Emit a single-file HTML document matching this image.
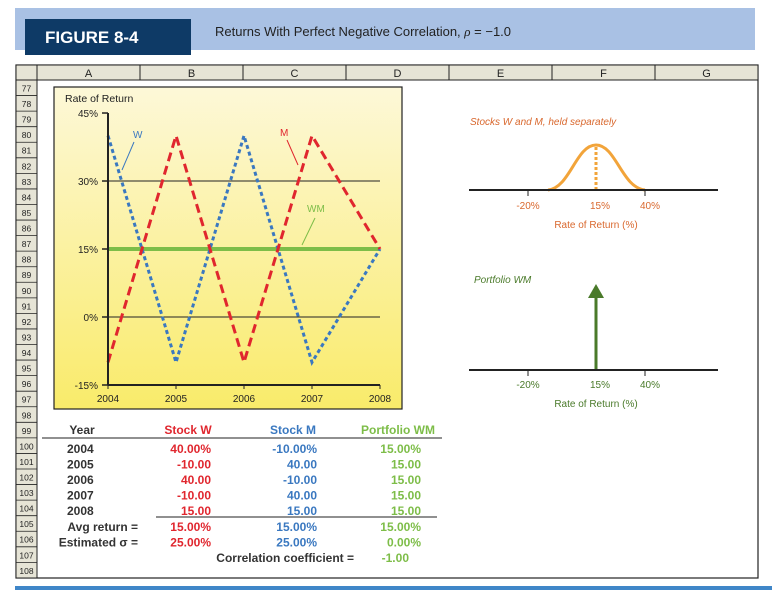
<!DOCTYPE html>
<html><head><meta charset="utf-8"><style>
body{margin:0;background:#fff;font-family:"Liberation Sans",sans-serif;}
svg{display:block}
</style></head><body>
<svg id="s" width="772" height="602" xmlns="http://www.w3.org/2000/svg" font-family="Liberation Sans, sans-serif">
<rect x="15" y="8" width="740" height="42" fill="#a9c1e4"/>
<rect x="25" y="19" width="166" height="36" fill="#0e3a66"/>
<text x="45" y="43" fill="#fff" font-size="17" font-weight="bold">FIGURE 8-4</text>
<text x="215" y="36" fill="#222" font-size="13">Returns With Perfect Negative Correlation, <tspan font-style="italic" font-family="Liberation Serif">ρ</tspan> = −1.0</text>
<rect x="16" y="65" width="742" height="513" fill="#fff" stroke="#222" stroke-width="1.2"/>
<g id="grid"></g>
<rect x="54" y="87" width="348" height="322" fill="url(#yg)" stroke="#222" stroke-width="1.2"/>
<defs><linearGradient id="yg" x1="0" y1="0" x2="0" y2="1"><stop offset="0" stop-color="#fdf8d8"/><stop offset="1" stop-color="#f9eb6a"/></linearGradient></defs>
<g id="chart"></g>
<text x="65" y="102" font-size="10.5" fill="#222">Rate of Return</text>
<text x="133" y="138" font-size="10" fill="#3a78c0">W</text>
<line x1="134" y1="142" x2="122" y2="170" stroke="#3a78c0" stroke-width="1"/>
<text x="280" y="136" font-size="10" fill="#e0262e">M</text>
<line x1="287" y1="140" x2="298" y2="165" stroke="#e0262e" stroke-width="1"/>
<text x="307" y="212" font-size="10" fill="#7dbd48">WM</text>
<line x1="315" y1="218" x2="302" y2="245" stroke="#7dbd48" stroke-width="1"/>
<g>
<text x="470" y="125" font-size="10" font-style="italic" fill="#d9682e">Stocks W and M, held separately</text>
<path d="M548,190 C570,188 576,145 596,145 C616,145 622,188 645,190" fill="none" stroke="#f2a43a" stroke-width="3"/>
<line x1="596" y1="147" x2="596" y2="190" stroke="#f2a43a" stroke-width="3" stroke-dasharray="3,2"/>
<line x1="469" y1="190" x2="718" y2="190" stroke="#222" stroke-width="2"/>
<line x1="528" y1="190" x2="528" y2="196" stroke="#222"/><line x1="645" y1="190" x2="645" y2="196" stroke="#222"/>
<text x="528" y="209" font-size="10" fill="#d9682e" text-anchor="middle">-20%</text>
<text x="600" y="209" font-size="10" fill="#d9682e" text-anchor="middle">15%</text>
<text x="650" y="209" font-size="10" fill="#d9682e" text-anchor="middle">40%</text>
<text x="596" y="228" font-size="10" fill="#d9682e" text-anchor="middle">Rate of Return (%)</text>
</g>
<g>
<text x="474" y="283" font-size="10" font-style="italic" fill="#4a7a2a">Portfolio WM</text>
<line x1="596" y1="370" x2="596" y2="296" stroke="#4a7a2a" stroke-width="3"/>
<polygon points="596,284 588,298 604,298" fill="#4a7a2a"/>
<line x1="469" y1="370" x2="718" y2="370" stroke="#222" stroke-width="2"/>
<line x1="528" y1="370" x2="528" y2="376" stroke="#222"/><line x1="645" y1="370" x2="645" y2="376" stroke="#222"/>
<text x="528" y="388" font-size="10" fill="#4a7a2a" text-anchor="middle">-20%</text>
<text x="600" y="388" font-size="10" fill="#4a7a2a" text-anchor="middle">15%</text>
<text x="650" y="388" font-size="10" fill="#4a7a2a" text-anchor="middle">40%</text>
<text x="596" y="407" font-size="10" fill="#4a7a2a" text-anchor="middle">Rate of Return (%)</text>
</g>
<g id="table" font-size="12" font-weight="bold"></g>
<rect x="15" y="586" width="757" height="4" fill="#3f86c8"/>
</svg>
<script>
const years=[2004,2005,2006,2007,2008];
const stockW=[40,-10,40,-10,15];
const stockM=[-10,40,-10,40,15];
const portfolioWM=[15,15,15,15,15];
const yTicks=[45,30,15,0,-15];
const NS="http://www.w3.org/2000/svg";
function mk(p,t,a,txt){const e=document.createElementNS(NS,t);for(const k in a)e.setAttribute(k,a[k]);if(txt!==undefined)e.textContent=txt;p.appendChild(e);return e;}
const xs=i=>108+(years[i]-2004)*68;
const ys=v=>317-v*4.533;
// spreadsheet grid
const g=document.getElementById('grid');
let hdr=mk(g,'rect',{x:16,y:65,width:742,height:15,fill:'#e6e4d6',stroke:'#222'});

const cols=['A','B','C','D','E','F','G'];
cols.forEach((c,i)=>{const x=37+i*103;
 mk(g,'line',{x1:x,y1:65,x2:x,y2:80,stroke:'#222'});
 const t=mk(g,'text',{x:x+51.5,y:77,'font-size':11,'text-anchor':'middle',fill:'#222'},c);
 });
const rc=mk(g,'rect',{x:16,y:80,width:21,height:498,fill:'#e6e4d6',stroke:'#222'});

for(let r=77;r<=108;r++){const y=80+(r-77)*15.56;
 mk(g,'line',{x1:16,y1:y,x2:37,y2:y,stroke:'#222','stroke-width':0.8});
 const t=mk(g,'text',{x:26.5,y:y+11.5,'font-size':8.5,'text-anchor':'middle',fill:'#222'},String(r));
 }
// chart
const c=document.getElementById('chart');
yTicks.forEach(v=>{const y=ys(v);
 if(v===30||v===0){const l=mk(c,'line',{x1:108,y1:y,x2:380,y2:y,stroke:'#222','stroke-width':1});}
 mk(c,'line',{x1:102,y1:y,x2:108,y2:y,stroke:'#222','stroke-width':1.5});
 const t=mk(c,'text',{x:98,y:y+4,'font-size':10,'text-anchor':'end',fill:'#222'},v+'%');
 });
years.forEach((yr,i)=>{const x=xs(i);mk(c,'line',{x1:x,y1:ys(-15),x2:x,y2:ys(-15)+4,stroke:'#222'});
 const t=mk(c,'text',{x:x,y:ys(-15)+17,'font-size':10,'text-anchor':'middle',fill:'#222'},String(yr));
 });
function series(arr,col,dash,w,name){const d=arr.map((v,i)=>(i?'L':'M')+xs(i)+','+ys(v)).join(' ');
 const p=mk(c,'path',{d:d,fill:'none',stroke:col,'stroke-width':w,'stroke-dasharray':dash});
 }
series(portfolioWM,'#7dbd48','none',4,'series-wm');
series(stockW,'#3a78c0','4,3',3,'series-w');
series(stockM,'#e0262e','9,5',3,'series-m');
mk(c,'line',{x1:108,y1:ys(45),x2:108,y2:ys(-15),stroke:'#222','stroke-width':2});
mk(c,'line',{x1:108,y1:ys(-15),x2:380,y2:ys(-15),stroke:'#222','stroke-width':2});
// table
const T=document.getElementById('table');
const rowY=i=>449+i*15.55;
function tx(x,y,s,col,anchor,name){const t=mk(T,'text',{x:x,y:y,fill:col,'text-anchor':anchor||'start'},s);return t;}
tx(82,434,'Year','#333','middle','table-header-year');
tx(188,434,'Stock W','#e0262e','middle','table-header-stock-w');
tx(293,434,'Stock M','#3a78c0','middle','table-header-stock-m');
tx(398,434,'Portfolio WM','#7dbd48','middle','table-header-portfolio-wm');
mk(T,'line',{x1:42,y1:438,x2:442,y2:438,stroke:'#222'});
const fmt=(v,i)=>i===0?v.toFixed(2)+'%':v.toFixed(2);
years.forEach((yr,i)=>{const y=rowY(i)+4;
 tx(67,y,String(yr),'#333','start','table-year-'+yr);
 tx(211,y,fmt(stockW[i],i),'#e0262e','end','table-w-'+yr);
 tx(317,y,fmt(stockM[i],i),'#3a78c0','end','table-m-'+yr);
 tx(421,y,fmt(portfolioWM[i],i),'#7dbd48','end','table-wm-'+yr);});
mk(T,'line',{x1:156,y1:517,x2:437,y2:517,stroke:'#222'});
tx(138,rowY(5)+4,'Avg return =','#333','end','avg-return-label');
tx(211,rowY(5)+4,'15.00%','#e0262e','end','avg-w');
tx(317,rowY(5)+4,'15.00%','#3a78c0','end','avg-m');
tx(421,rowY(5)+4,'15.00%','#7dbd48','end','avg-wm');
tx(138,rowY(6)+4,'Estimated σ =','#333','end','sigma-label');
tx(211,rowY(6)+4,'25.00%','#e0262e','end','sigma-w');
tx(317,rowY(6)+4,'25.00%','#3a78c0','end','sigma-m');
tx(421,rowY(6)+4,'0.00%','#7dbd48','end','sigma-wm');
tx(354,rowY(7)+4,'Correlation coefficient =','#333','end','correlation-label');
tx(409,rowY(7)+4,'-1.00','#7dbd48','end','correlation-value');
</script>
</body></html>
